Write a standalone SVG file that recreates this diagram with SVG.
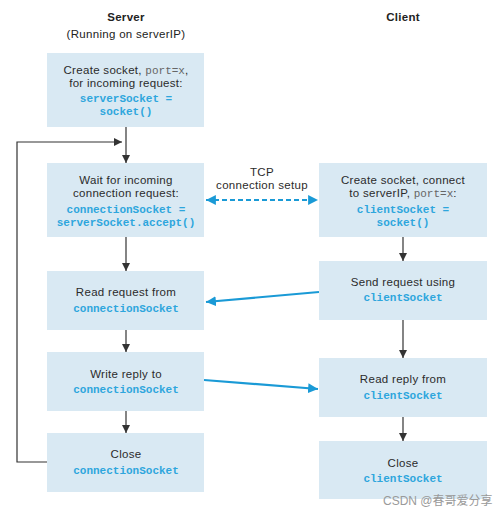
<svg xmlns="http://www.w3.org/2000/svg" width="500" height="513" viewBox="0 0 500 513">
<defs>
<style>
.box{fill:#d9e9f3}
.t{font-family:"Liberation Sans",Arial,sans-serif;font-size:11.5px;letter-spacing:0.3px;fill:#2b2b2b;text-anchor:middle}
.h{font-family:"Liberation Sans",Arial,sans-serif;font-size:11.5px;letter-spacing:0.3px;fill:#222;text-anchor:middle}
.hb{font-weight:bold}
.c{font-family:"Liberation Mono","Courier New",monospace;font-size:11px;letter-spacing:0;font-weight:bold;fill:#2ea6dd;text-anchor:middle}
.p{font-family:"Liberation Mono","Courier New",monospace;font-size:11px;letter-spacing:0;fill:#666}
.k{stroke:#333;stroke-width:1.2;fill:none}
.b{stroke:#1a9ad6;stroke-width:2.2;fill:none}
.w{font-family:"Liberation Sans","Noto Sans CJK SC",sans-serif;font-size:12px;fill:#9a9a9a}
</style>
<marker id="ak" viewBox="0 0 10 10" refX="10" refY="5" markerWidth="8" markerHeight="8" markerUnits="userSpaceOnUse" orient="auto"><path d="M0,0 L10,5 L0,10 z" fill="#333"/></marker>
<marker id="ab" viewBox="0 0 10 10" refX="10" refY="5" markerWidth="4.5" markerHeight="4.5" orient="auto-start-reverse"><path d="M0,0 L10,5 L0,10 z" fill="#1a9ad6"/></marker>
</defs>
<g id="headers">
<text class="h hb" x="126" y="21">Server</text>
<text class="h" x="126" y="38">(Running on serverIP)</text>
<text class="h hb" x="403" y="21">Client</text>
</g>
<g id="connectors">
<line class="k" x1="126" y1="127" x2="126" y2="163" marker-end="url(#ak)"/>
<polyline class="k" points="47,462 17,462 17,142 122,142" marker-end="url(#ak)"/>
<line class="k" x1="126" y1="237" x2="126" y2="271" marker-end="url(#ak)"/>
<line class="k" x1="126" y1="330" x2="126" y2="352" marker-end="url(#ak)"/>
<line class="k" x1="126" y1="411" x2="126" y2="433" marker-end="url(#ak)"/>
<line class="k" x1="403" y1="237" x2="403" y2="261" marker-end="url(#ak)"/>
<line class="k" x1="403" y1="320" x2="403" y2="358" marker-end="url(#ak)"/>
<line class="k" x1="403" y1="417" x2="403" y2="441" marker-end="url(#ak)"/>
<line class="b" x1="206" y1="200" x2="318" y2="200" stroke-dasharray="5,3" marker-start="url(#ab)" marker-end="url(#ab)"/>
<line class="b" x1="319" y1="292" x2="206" y2="302" marker-end="url(#ab)"/>
<line class="b" x1="204" y1="380" x2="318" y2="389" marker-end="url(#ab)"/>
<text class="t" x="262" y="176">TCP</text>
<text class="t" x="262" y="189">connection setup</text>
</g>
<g id="s1">
<rect class="box" x="47" y="53" width="157" height="74"/>
<text class="t" x="126" y="74">Create  socket, <tspan class="p">port=x</tspan>,</text>
<text class="t" x="126" y="87">for incoming request:</text>
<text class="c" x="126" y="102">serverSocket =</text>
<text class="c" x="126" y="115">socket()</text>
</g>
<g id="s2">
<rect class="box" x="47" y="163" width="157" height="74"/>
<text class="t" x="126" y="184">Wait for incoming</text>
<text class="t" x="126" y="197">connection request:</text>
<text class="c" x="126" y="213">connectionSocket =</text>
<text class="c" x="126" y="226">serverSocket.accept()</text>
</g>
<g id="s3">
<rect class="box" x="47" y="271" width="157" height="59"/>
<text class="t" x="126" y="296">Read request from</text>
<text class="c" x="126" y="312">connectionSocket</text>
</g>
<g id="s4">
<rect class="box" x="47" y="352" width="157" height="59"/>
<text class="t" x="126" y="378">Write reply to</text>
<text class="c" x="126" y="393">connectionSocket</text>
</g>
<g id="s5">
<rect class="box" x="47" y="433" width="157" height="59"/>
<text class="t" x="126" y="458">Close</text>
<text class="c" x="126" y="474">connectionSocket</text>
</g>
<g id="c1">
<rect class="box" x="319" y="163" width="168" height="74"/>
<text class="t" x="403" y="184">Create socket, connect</text>
<text class="t" x="403" y="197">to serverIP, <tspan class="p">port=x</tspan>:</text>
<text class="c" x="403" y="213">clientSocket =</text>
<text class="c" x="403" y="226">socket()</text>
</g>
<g id="c2">
<rect class="box" x="319" y="261" width="168" height="59"/>
<text class="t" x="403" y="286">Send request using</text>
<text class="c" x="403" y="301">clientSocket</text>
</g>
<g id="c3">
<rect class="box" x="319" y="358" width="168" height="59"/>
<text class="t" x="403" y="383">Read reply from</text>
<text class="c" x="403" y="399">clientSocket</text>
</g>
<g id="c4">
<rect class="box" x="319" y="441" width="168" height="58"/>
<text class="t" x="403" y="467">Close</text>
<text class="c" x="403" y="482">clientSocket</text>
</g>
<text class="w" x="383" y="505">CSDN @春哥爱分享</text>
</svg>
